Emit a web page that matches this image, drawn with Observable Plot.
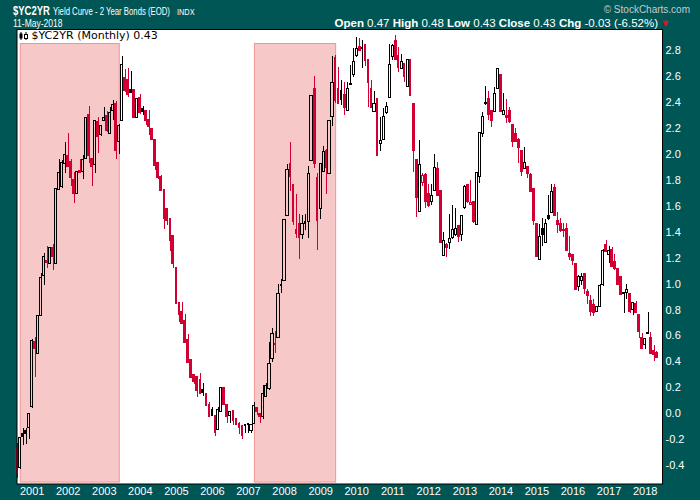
<!DOCTYPE html>
<html>
<head>
<meta charset="utf-8">
<script src="https://cdn.jsdelivr.net/npm/d3@7"></script>
<script src="https://cdn.jsdelivr.net/npm/@observablehq/plot@0.6"></script>
<style>
  html, body { margin: 0; padding: 0; background: #005555; }
  #wrap { position: relative; width: 700px; height: 500px; background: #005555; overflow: hidden; }
  #chart { position: absolute; left: 0; top: 29px; }
  #overlay { position: absolute; left: 0; top: 0; pointer-events: none; }
</style>
</head>
<body>
<div id="wrap">
  <div id="chart"></div>
  <svg id="overlay" width="700" height="500" font-family="'Liberation Sans', Arial, sans-serif">
    <text transform="translate(13,15) scale(0.73,1)" fill="#fff" font-size="13" font-weight="bold">$YC2YR</text>
    <text transform="translate(53,14.5) scale(0.74,1)" fill="#fff" font-size="10.5">Yield Curve - 2 Year Bonds (EOD)</text>
    <text transform="translate(177,14.5) scale(0.82,1)" fill="#fff" font-size="9">INDX</text>
    <text x="690" y="13" fill="#c4cccc" font-size="10" text-anchor="end">© StockCharts.com</text>
    <text transform="translate(13,26.5) scale(0.81,1)" fill="#fff" font-size="10.5">11-May-2018</text>
    <text x="658" y="26.5" fill="#fff" font-size="11.5" text-anchor="end"><tspan font-weight="bold">Open</tspan> 0.47 <tspan font-weight="bold">High</tspan> 0.48 <tspan font-weight="bold">Low</tspan> 0.43 <tspan font-weight="bold">Close</tspan> 0.43 <tspan font-weight="bold">Chg</tspan> -0.03 (-6.52%)</text>
    <text x="665" y="25.5" fill="#e0102e" font-size="8" text-anchor="middle" font-family="'DejaVu Sans', sans-serif">▼</text>
    <g>
      <line x1="21" x2="21" y1="32" y2="40" stroke="#000" stroke-width="1"/>
      <rect x="19.5" y="33.5" width="3" height="5" fill="#000"/>
      <line x1="26" x2="26" y1="32" y2="40" stroke="#000" stroke-width="1"/>
      <rect x="24.5" y="34.5" width="3" height="4" fill="#fff" stroke="#000" stroke-width="1"/>
    </g>
    <text x="31.5" y="39" fill="#000" font-size="11" font-family="'DejaVu Sans', sans-serif">$YC2YR (Monthly) 0.43</text>
  </svg>
</div>
<script>
// ---- data (monthly candles, Aug 2000 .. May 2018) ----
const firstMonth = "2000-08";
const open = [
 -0.27,-0.42,-0.155,-0.135,-0.11,
 0.05,0.55,0.46,0.755,1.063,1.175,1.156,1.279,1.156,1.726,1.747,1.927,
 1.983,1.94,1.80,1.695,1.87,1.865,1.965,2.30,1.965,1.92,2.25,2.147,
 2.26,2.29,2.153,2.332,2.384,2.093,2.255,2.59,2.57,2.492,2.497,2.28,
 2.435,2.35,2.33,2.265,2.19,2.106,1.932,1.824,1.721,1.58,1.497,1.366,
 1.125,0.855,0.783,0.714,0.565,0.411,0.295,0.282,0.262,0.18,0.154,0.064,
 0.025,-0.018,-0.124,0.015,0.197,0.064,-0.02,0.018,-0.044,-0.077,-0.097,-0.085,
 -0.08,-0.13,-0.077,0.046,0.0,-0.026,0.128,0.192,0.423,0.54,0.583,0.995,
 1.022,1.523,1.926,1.765,1.413,1.464,1.379,1.475,1.477,1.947,2.504,1.818,
 1.58,1.867,2.021,1.849,2.286,2.741,2.5,2.484,2.458,2.335,2.54,2.612,
 2.756,2.826,2.82,2.838,2.723,2.504,2.325,2.427,2.08,2.114,2.317,2.435,
 2.748,2.869,2.756,2.658,2.697,2.517,2.723,2.389,1.957,1.554,1.78,1.836,
 1.695,1.631,1.721,1.888,1.713,1.215,1.302,1.317,1.353,1.38,1.446,1.379,
 1.585,1.765,1.612,1.631,1.456,1.824,2.158,2.392,2.427,2.33,2.325,2.504,
 2.612,2.304,2.294,2.33,2.222,2.152,2.106,2.024,1.888,1.90,1.836,1.728,
 1.459,1.186,1.42,1.315,1.52,1.546,1.739,1.484,1.464,1.415,1.425,1.233,
 1.22,1.156,0.976,1.027,1.079,0.937,0.865,0.834,0.786,0.827,0.989,1.302,
 1.225,1.258,1.168,1.112,1.053,0.93,0.929,0.919,0.801,0.847,0.757,0.585,
 0.531,0.62,0.585,0.48,0.47
];
const high = [
 -0.23,-0.18,-0.115,-0.11,0.0,
 0.57,0.59,0.75,1.08,1.235,1.29,1.28,1.305,1.74,1.96,1.95,2.09,
 2.16,1.96,1.86,1.87,1.96,1.99,2.28,2.37,1.97,2.26,2.28,2.22,
 2.36,2.33,2.36,2.415,2.41,2.23,2.754,2.65,2.66,2.64,2.50,2.43,
 2.46,2.37,2.34,2.34,2.19,2.11,1.935,1.84,1.725,1.58,1.50,1.37,
 1.125,0.86,0.855,0.763,0.611,0.42,0.30,0.29,0.31,0.23,0.155,0.09,
 0.05,-0.01,0.05,0.197,0.20,0.07,0.015,0.02,-0.04,-0.07,-0.09,-0.08,
 -0.075,-0.08,0.09,0.05,0.005,0.218,0.23,0.552,0.655,0.634,1.0,1.032,
 1.50,1.918,2.088,1.77,1.687,1.533,1.53,1.533,1.908,2.455,2.6,1.85,
 1.93,2.06,2.035,2.255,2.756,2.76,2.67,2.57,2.55,2.555,2.684,2.818,
 2.90,2.89,2.877,2.84,2.723,2.566,2.484,2.43,2.286,2.35,2.40,2.85,
 2.85,2.915,2.826,2.766,2.70,2.73,2.725,2.39,1.96,2.106,1.855,1.85,
 1.767,1.767,1.995,1.94,1.715,1.395,1.31,1.533,1.605,1.58,1.45,1.525,
 1.76,1.77,1.80,1.635,1.86,2.17,2.325,2.522,2.484,2.34,2.517,2.66,
 2.615,2.466,2.42,2.36,2.225,2.20,2.12,2.03,2.055,1.90,1.85,1.73,
 1.46,1.459,1.502,1.495,1.682,1.765,1.767,1.554,1.502,1.47,1.464,1.366,
 1.225,1.16,1.066,1.084,1.08,0.955,0.91,0.878,0.83,0.997,1.266,1.335,
 1.29,1.28,1.228,1.12,1.06,0.93,0.996,0.92,0.86,0.865,0.76,0.621,
 0.58,0.778,0.63,0.53,0.48
];
const low = [
 -0.50,-0.43,-0.245,-0.24,-0.20,
 0.04,0.28,0.455,0.75,0.99,1.12,1.15,1.105,1.15,1.72,1.74,1.85,
 1.90,1.75,1.62,1.69,1.85,1.805,1.96,1.93,1.75,1.85,2.01,2.14,
 2.25,2.17,2.15,2.26,1.96,2.0,2.25,2.48,2.435,2.466,2.275,2.28,
 2.31,2.30,2.22,2.145,2.11,1.875,1.805,1.71,1.42,1.45,1.253,1.117,
 0.845,0.70,0.69,0.54,0.385,0.27,0.226,0.128,0.15,0.135,0.055,-0.03,
 -0.02,-0.175,-0.13,0.015,0.07,-0.077,-0.072,-0.09,-0.09,-0.16,-0.198,-0.155,
 -0.155,-0.15,-0.08,-0.014,-0.072,-0.047,0.125,0.18,0.398,0.462,0.58,0.924,
 1.02,1.52,1.713,1.451,1.348,1.19,1.343,1.41,1.353,1.945,1.893,1.258,
 1.495,1.86,1.687,1.845,2.217,2.389,2.385,2.38,2.30,2.33,2.53,2.594,
 2.75,2.79,2.66,2.679,2.363,2.35,2.32,1.985,2.024,2.11,2.31,2.43,
 2.72,2.72,2.633,2.65,2.556,2.515,2.45,1.862,1.515,1.55,1.75,1.58,
 1.59,1.605,1.72,1.675,1.31,1.21,1.207,1.266,1.343,1.37,1.317,1.33,
 1.575,1.62,1.61,1.47,1.455,1.777,2.127,2.38,2.26,2.209,2.32,2.50,
 2.32,2.30,2.235,2.24,2.055,2.09,1.93,1.829,1.885,1.81,1.705,1.451,
 1.205,1.18,1.289,1.31,1.49,1.54,1.52,1.392,1.40,1.36,1.255,1.18,
 1.143,0.95,0.945,0.99,0.919,0.842,0.752,0.752,0.78,0.825,0.985,1.24,
 1.156,1.125,1.104,0.99,0.915,0.775,0.878,0.77,0.757,0.77,0.577,0.50,
 0.493,0.612,0.46,0.40,0.43
];
const close = [
 -0.46,-0.19,-0.175,-0.155,0.0,
 0.565,0.50,0.75,1.048,1.212,1.165,1.279,1.207,1.734,1.855,1.932,1.996,
 1.906,1.82,1.695,1.867,1.857,1.957,2.281,1.99,1.906,2.253,2.132,2.219,
 2.28,2.178,2.322,2.381,2.03,2.219,2.692,2.49,2.458,2.476,2.28,2.427,
 2.317,2.325,2.255,2.214,2.114,1.914,1.82,1.716,1.503,1.49,1.33,1.156,
 0.848,0.765,0.693,0.544,0.39,0.277,0.244,0.175,0.154,0.16,0.059,-0.026,
 -0.018,-0.149,0.03,0.197,0.072,-0.02,0.012,-0.057,-0.083,-0.11,-0.172,-0.09,
 -0.088,-0.085,0.064,0.018,-0.026,0.154,0.218,0.385,0.616,0.53,0.924,0.99,
 1.495,1.88,1.824,1.477,1.387,1.353,1.464,1.468,1.849,2.453,1.926,1.484,
 1.926,2.016,1.893,2.253,2.551,2.414,2.389,2.422,2.355,2.504,2.535,2.715,
 2.813,2.795,2.815,2.723,2.551,2.355,2.389,1.991,2.101,2.291,2.363,2.689,
 2.838,2.728,2.666,2.71,2.594,2.728,2.453,2.024,1.662,1.919,1.83,1.631,
 1.60,1.682,1.893,1.677,1.315,1.33,1.276,1.348,1.418,1.425,1.361,1.523,
 1.746,1.631,1.625,1.477,1.857,2.163,2.291,2.389,2.304,2.26,2.466,2.658,
 2.325,2.33,2.28,2.247,2.098,2.095,2.05,1.862,1.934,1.849,1.708,1.49,
 1.207,1.366,1.379,1.464,1.50,1.713,1.523,1.459,1.412,1.41,1.258,1.207,
 1.176,0.955,1.053,1.058,0.963,0.906,0.783,0.778,0.827,0.984,1.258,1.245,
 1.258,1.13,1.117,0.996,0.919,0.925,0.955,0.783,0.855,0.775,0.629,0.50,
 0.577,0.616,0.462,0.455,0.43
];
const yearLabels = ["2001","2002","2003","2004","2005","2006","2007","2008","2009",
  "2010","2011","2012","2013","2014","2015","2016","2017","2018"];
const yTickValues = [-0.4,-0.2,0.0,0.2,0.4,0.6,0.8,1.0,1.2,1.4,1.6,1.8,2.0,2.2,2.4,2.6,2.8];
const shadeStart = ["2000-09-07","2007-03-07"];
const shadeEnd   = ["2003-06-07","2009-06-07"];
const shadeLow   = [-0.53,-0.53];
const shadeHigh  = [2.85,2.85];

// ---- build tables ----
const [fy, fm] = firstMonth.split("-").map(Number);
const candles = close.map((c, i) => {
  const o = open[i];
  const prev = i > 0 ? close[i - 1] : o;
  return {
    date: new Date(Date.UTC(fy, fm - 1 + i, 1)),
    o, h: high[i], l: low[i], c,
    top: Math.max(o, c), bot: Math.min(o, c),
    hollow: c > o,
    up: c >= prev
  };
});
const shades = shadeStart.map((s, i) => ({
  x1: new Date(s + "T00:00Z"), x2: new Date(shadeEnd[i] + "T00:00Z"),
  y1: shadeLow[i], y2: shadeHigh[i]
}));
const yearTicks = yearLabels.map(y => new Date(Date.UTC(+y, 0, 1)));

const RED = "#d20032", BLACK = "#000000";
const dayOff = (n) => (d) => d3.utcDay.offset(d.date, n);

function candleMarks(list, color) {
  const filled = list.filter(d => !d.hollow);
  const hollow = list.filter(d => d.hollow);
  return [
    Plot.ruleX(list, {x: "date", y1: "top", y2: "h", stroke: color, strokeWidth: 1, shapeRendering: "crispEdges"}),
    Plot.ruleX(list, {x: "date", y1: "l", y2: "bot", stroke: color, strokeWidth: 1, shapeRendering: "crispEdges"}),
    Plot.rect(filled, {x1: dayOff(-14), x2: dayOff(14), y1: "bot", y2: "top", fill: color,
      insetTop: -0.7, insetBottom: -0.7, shapeRendering: "crispEdges"}),
    Plot.rect(hollow, {x1: dayOff(-11), x2: dayOff(11), y1: "bot", y2: "top", fill: "none",
      stroke: color, strokeWidth: 1, shapeRendering: "crispEdges"})
  ];
}

const chart = Plot.plot({
  width: 700,
  height: 471,
  marginLeft: 16.5,
  marginRight: 38,
  marginTop: 0,
  marginBottom: 16.5,
  style: "background: transparent; color: #ffffff; font: 11px 'Liberation Sans', Arial, sans-serif; overflow: visible;",
  x: {
    type: "utc",
    domain: [new Date("2000-07-31T00:00Z"), new Date("2018-06-26T00:00Z")],
    ticks: yearTicks,
    tickFormat: (d) => yearLabels[yearTicks.findIndex(t => +t === +d)],
    tickSize: 0,
    tickPadding: 3,
    label: null
  },
  y: {
    domain: [-0.541, 2.962],
    axis: "right",
    ticks: yTickValues,
    tickFormat: (d) => d.toFixed(1),
    tickSize: 0,
    tickPadding: 3,
    label: null
  },
  marks: [
    Plot.frame({fill: "#ffffff", stroke: "none"}),
    Plot.rect(shades, {x1: "x1", x2: "x2", y1: "y1", y2: "y2", fill: "#f7c8c8", stroke: "#f09494", strokeWidth: 1}),
    ...candleMarks(candles.filter(d => d.up), BLACK),
    ...candleMarks(candles.filter(d => !d.up), RED),
    Plot.frame({stroke: "#000000", strokeWidth: 1})
  ]
});
document.getElementById("chart").appendChild(chart);
</script>
</body>
</html>
